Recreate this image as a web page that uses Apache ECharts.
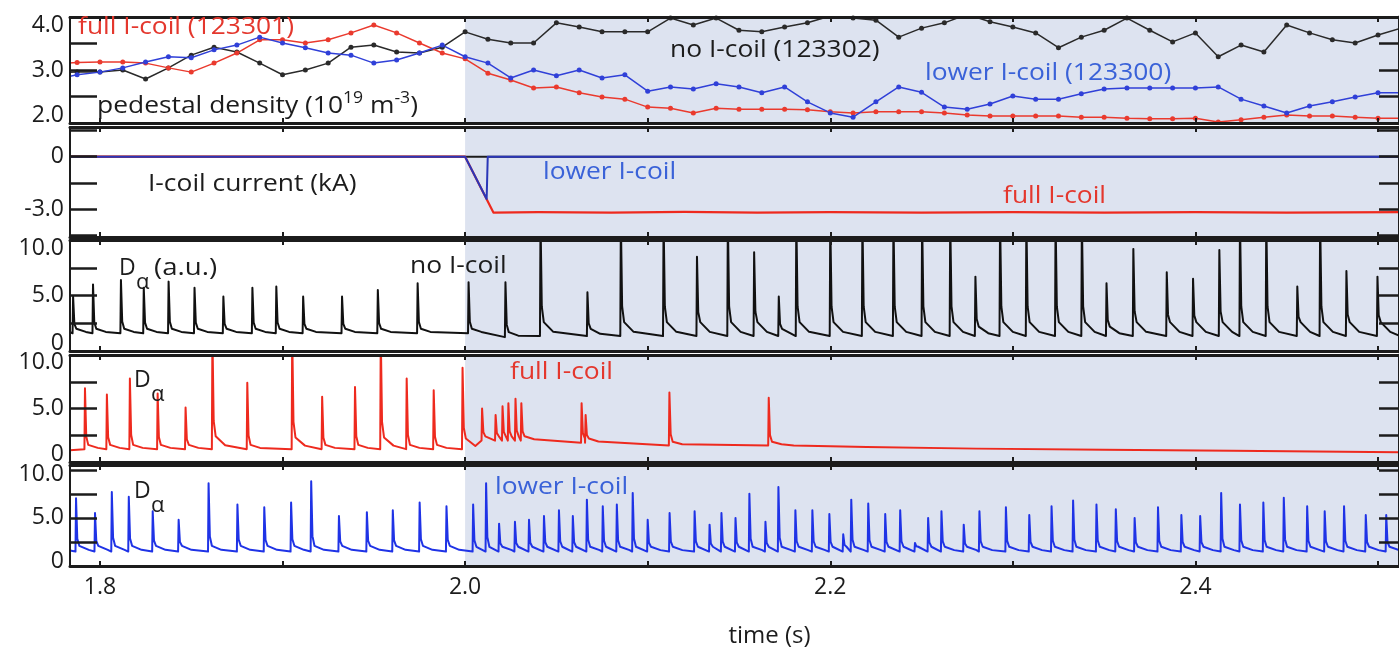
<!DOCTYPE html>
<html>
<head>
<meta charset="utf-8">
<script src="https://cdn.jsdelivr.net/npm/echarts@6/dist/echarts.min.js"></script>
<style>
  html, body { margin: 0; padding: 0; background: #ffffff; }
  #chart { width: 1399px; height: 650px; }
</style>
</head>
<body>
<div id="chart"></div>
<script>
// ---------------------------------------------------------------------------
// Shared time axis (s)
// ---------------------------------------------------------------------------
const timeRange = [1.7836, 2.5115];
const timeTicks = [1.8, 1.9, 2.0, 2.1, 2.2, 2.3, 2.4, 2.5];
const timeLabels = [1.8, 2.0, 2.2, 2.4];
const coilOnset = 2.0;

// ---------------------------------------------------------------------------
// Pedestal density (10^19 m^-3), Thomson samples every 12.5 ms
// ---------------------------------------------------------------------------
const densityTimes = [1.775, 1.7875, 1.8, 1.8125, 1.825, 1.8375, 1.85, 1.8625, 1.875, 1.8875,
  1.9, 1.9125, 1.925, 1.9375, 1.95, 1.9625, 1.975, 1.9875, 2.0, 2.0125,
  2.025, 2.0375, 2.05, 2.0625, 2.075, 2.0875, 2.1, 2.1125, 2.125, 2.1375,
  2.15, 2.1625, 2.175, 2.1875, 2.2, 2.2125, 2.225, 2.2375, 2.25, 2.2625,
  2.275, 2.2875, 2.3, 2.3125, 2.325, 2.3375, 2.35, 2.3625, 2.375, 2.3875,
  2.4, 2.4125, 2.425, 2.4375, 2.45, 2.4625, 2.475, 2.4875, 2.5, 2.5125];
const densityNoCoil = [2.95, 2.96, 2.96, 3.00, 2.83, 3.04, 3.28, 3.43, 3.34, 3.13,
  2.91, 3.00, 3.13, 3.43, 3.47, 3.34, 3.32, 3.43, 3.72, 3.58,
  3.51, 3.51, 3.89, 3.81, 3.72, 3.72, 3.72, 3.98, 3.85, 3.98,
  3.75, 3.72, 3.81, 3.89, 4.02, 3.98, 3.94, 3.62, 3.79, 3.89,
  4.05, 3.91, 3.81, 3.70, 3.42, 3.62, 3.75, 3.98, 3.75, 3.53,
  3.70, 3.25, 3.47, 3.34, 3.85, 3.70, 3.57, 3.51, 3.66, 3.79];
const densityFullCoil = [3.12, 3.14, 3.15, 3.15, 3.13, 3.04, 2.96, 3.13, 3.32, 3.57,
  3.57, 3.51, 3.57, 3.70, 3.85, 3.70, 3.51, 3.32, 3.21, 2.94,
  2.81, 2.66, 2.68, 2.57, 2.49, 2.45, 2.30, 2.28, 2.19, 2.28,
  2.26, 2.26, 2.26, 2.25, 2.21, 2.19, 2.21, 2.21, 2.21, 2.19,
  2.15, 2.13, 2.13, 2.13, 2.13, 2.11, 2.11, 2.09, 2.08, 2.08,
  2.09, 2.02, 2.06, 2.11, 2.15, 2.13, 2.13, 2.11, 2.09, 2.09];
const densityLowerCoil = [2.82, 2.91, 2.96, 3.04, 3.15, 3.25, 3.23, 3.38, 3.47, 3.62,
  3.51, 3.42, 3.32, 3.28, 3.13, 3.19, 3.32, 3.47, 3.25, 3.13,
  2.85, 3.00, 2.89, 3.00, 2.85, 2.91, 2.60, 2.68, 2.64, 2.74,
  2.68, 2.57, 2.68, 2.40, 2.19, 2.11, 2.40, 2.68, 2.58, 2.30,
  2.26, 2.36, 2.51, 2.45, 2.45, 2.55, 2.64, 2.66, 2.66, 2.66,
  2.66, 2.68, 2.45, 2.32, 2.19, 2.32, 2.40, 2.49, 2.57, 2.57];

// ---------------------------------------------------------------------------
// I-coil current (kA): [time, current]
// ---------------------------------------------------------------------------
const coilCurrentNone = [[1.7836, 0], [2.5115, 0]];
const coilCurrentFull = [[1.7836, 0], [2.0, 0], [2.0155, -3.2], [2.04, -3.17], [2.08, -3.2],
  [2.12, -3.16], [2.16, -3.2], [2.2, -3.18], [2.25, -3.2], [2.3, -3.17], [2.35, -3.2],
  [2.4, -3.17], [2.45, -3.2], [2.5115, -3.18]];
const coilCurrentLower = [[1.7836, 0], [2.0, 0], [2.0118, -2.42], [2.0124, 0], [2.5115, 0]];

// ---------------------------------------------------------------------------
// D-alpha ELM bursts: [time, peak, optional post-ELM level]
// levels: [from time, pre-ELM level, post-ELM level]
// ---------------------------------------------------------------------------
const elmNoCoil = [[1.7853, 4.9], [1.7962, 6.0], [1.8115, 6.4], [1.824, 5.7], [1.8376, 6.25],
  [1.8518, 5.7], [1.8676, 4.9], [1.8835, 5.7], [1.8966, 5.8], [1.9113, 4.9], [1.9326, 4.9],
  [1.9522, 5.5], [1.974, 6.1], [2.0019, 6.2], [2.0221, 6.2], [2.0413, 12], [2.067, 5.3, 2.0],
  [2.0853, 12], [2.1087, 12], [2.127, 8.5], [2.1439, 12], [2.1583, 8.9], [2.1718, 4.9, 2.0],
  [2.1814, 12], [2.2, 12], [2.2176, 12], [2.2346, 12], [2.2503, 12], [2.2657, 12],
  [2.2795, 6.7, 2.2], [2.293, 12], [2.3074, 12], [2.3234, 12], [2.3378, 12], [2.3513, 6.1, 2.2],
  [2.366, 9.2], [2.3843, 7.1], [2.3987, 6.5], [2.4131, 9.1], [2.4244, 12], [2.4388, 12],
  [2.4558, 5.8], [2.4683, 12], [2.4827, 7.2], [2.4997, 6.7]];
const levelsNoCoil = [[1.78, 1.6, 2.0], [2.005, 1.25, 1.7], [2.035, 1.35, 2.6]];
const edgesNoCoil = { start: [[1.7836, 1.7]], end: [[2.5115, 1.4]] };

const elmFullCoil = [[1.7918, 6.9], [1.8038, 6.3], [1.8164, 7.8], [1.8316, 6.4], [1.8469, 5.1],
  [1.8616, 12, 2.4], [1.8807, 7.4], [1.9053, 12, 2.3], [1.9217, 6.1], [1.9397, 7.0],
  [1.9538, 12, 2.3], [1.968, 7.8], [1.9828, 6.7], [1.9986, 8.8, 2.2], [2.0093, 5.0],
  [2.0167, 4.4], [2.0205, 5.2], [2.0237, 5.5], [2.0276, 5.9], [2.0308, 5.5],
  [2.0638, 5.5], [2.066, 4.4], [2.1119, 6.5], [2.1663, 6.0]];
const levelsFullCoil = [[1.78, 1.2, 1.6], [2.005, 2.0, 2.4], [2.04, 1.8, 2.2], [2.1, 1.55, 1.9]];
const edgesFullCoil = { start: [[1.7836, 1.1]],
  end: [[2.18, 1.55], [2.22, 1.4], [2.28, 1.25], [2.35, 1.15], [2.42, 1.05], [2.5115, 0.9]] };

const elmLowerCoil = [[1.7869, 7.05], [1.7973, 5.5], [1.8065, 7.7], [1.8158, 7.2], [1.8289, 5.7],
  [1.8431, 4.8], [1.8595, 8.6], [1.8753, 6.4], [1.89, 6.1], [1.9047, 6.6], [1.9157, 8.8],
  [1.9309, 5.2], [1.9462, 5.6], [1.9604, 5.8], [1.9751, 6.6], [1.9898, 6.2],
  [2.0044, 6.4], [2.0115, 8.6], [2.0186, 4.4], [2.0273, 4.6], [2.035, 4.8], [2.0432, 5.2],
  [2.0514, 5.8], [2.059, 5.2], [2.0667, 6.9], [2.0754, 6.2], [2.0831, 6.4], [2.0918, 7.6],
  [2.1, 4.8], [2.112, 5.5], [2.1257, 5.7], [2.1339, 4.3], [2.1404, 5.5], [2.1481, 5.0],
  [2.1557, 7.5], [2.1645, 4.6], [2.1716, 8.2], [2.1809, 5.8], [2.1902, 5.8], [2.1995, 5.4],
  [2.2071, 3.3], [2.2115, 6.9], [2.2208, 6.5], [2.2301, 5.4], [2.2383, 5.8], [2.2464, 2.4],
  [2.2536, 5.0], [2.2609, 5.7], [2.2731, 4.3], [2.2817, 5.7], [2.2962, 6.1], [2.309, 5.3],
  [2.3212, 6.2], [2.333, 6.8], [2.3458, 6.4], [2.3564, 5.9], [2.3667, 5.0], [2.3795, 6.1],
  [2.3923, 5.3], [2.4026, 5.2], [2.4141, 7.6], [2.4244, 6.4], [2.4372, 6.6], [2.4484, 7.1],
  [2.4612, 6.2], [2.4708, 5.7], [2.4814, 6.2], [2.4933, 5.3], [2.5045, 5.3]];
const levelsLowerCoil = [[1.78, 1.5, 2.1], [2.0, 1.5, 2.0]];
const edgesLowerCoil = { start: [[1.7836, 1.6]], end: [[2.5115, 1.6]] };

// Panel axis ticks and labels
const densityTicks = [2.0, 2.5, 3.0, 3.5, 4.0], densityLabels = [2.0, 3.0, 4.0];
const currentTicks = [-4.5, -3.0, -1.5, 0, 1.5], currentLabels = [-3.0, 0];
const dalphaTicks = [0, 2.5, 5.0, 7.5, 10.0], dalphaLabels = [0, 5.0, 10.0];

// ---------------------------------------------------------------------------
// Style
// ---------------------------------------------------------------------------
const FONT = '"Open Sans", "DejaVu Sans", sans-serif';
const INK = '#1c1c1c';
const RED = '#ee2a1e';
const BLUE = '#1f33e6';
const NAVY = '#2a36b8';
const RED_TEXT = '#e4372d';
const BLUE_TEXT = '#3a62d8';
const SHADE = '#dde3f0';

// Expand ELM list into a polyline: sharp rise, fast drop, slow recovery
function elmTrace(elms, levels, edges) {
  const pts = edges.start.slice();
  elms.forEach((e, i) => {
    const t = e[0], peak = e[1];
    let lv = levels[0];
    levels.forEach(l => { if (l[0] <= t) lv = l; });
    const base = lv[1];
    const after = e.length > 2 ? e[2] : lv[2];
    const next = i + 1 < elms.length ? elms[i + 1][0] : Infinity;
    pts.push([t - 0.0003, base], [t, peak]);
    if (t + 0.0007 < next - 0.0003) pts.push([t + 0.0007, after + 0.15 * (peak - after)]);
    if (t + 0.0018 < next - 0.0003) pts.push([t + 0.0018, after]);
    if (t + 0.007 < next - 0.0012) pts.push([t + 0.007, base + 0.3 * (after - base)]);
  });
  return pts.concat(edges.end);
}
const zip = (xs, ys) => xs.map((x, i) => [x, ys[i]]);
const fmt1 = v => (v === 0 ? '0' : v.toFixed(1));

const panels = [
  { top: 17,  height: 106, min: 2.0,  max: 4.0,  ticks: densityTicks, labels: densityLabels, shiftEnds: 16 },
  { top: 127, height: 110, min: -4.6, max: 1.7,  ticks: currentTicks, labels: currentLabels, shiftEnds: 0 },
  { top: 240, height: 111, min: 0,    max: 10,   ticks: dalphaTicks,  labels: dalphaLabels,  shiftEnds: 16 },
  { top: 355, height: 107, min: 0,    max: 10,   ticks: dalphaTicks,  labels: dalphaLabels,  shiftEnds: 15 },
  { top: 465, height: 101, min: 0,    max: 10.5, ticks: dalphaTicks,  labels: dalphaLabels,  shiftEnds: 10 }
];

const option = {
  animation: false,
  backgroundColor: '#ffffff',
  textStyle: { fontFamily: FONT },
  grid: panels.map(p => ({ left: 70, width: 1334, top: p.top, height: p.height, show: false })),
  xAxis: [],
  yAxis: [],
  series: [],
  graphic: []
};

panels.forEach((p, i) => {
  const last = i === panels.length - 1;
  ['bottom', 'top'].forEach(pos => {
    const withLabels = last && pos === 'bottom';
    option.xAxis.push({
      gridIndex: i, type: 'value', position: pos, min: timeRange[0], max: timeRange[1], z: 10,
      axisLine: { show: true, onZero: false, lineStyle: { color: INK, width: 3 } },
      axisTick: { show: true, inside: true, length: 5, customValues: timeTicks,
        lineStyle: { color: INK, width: 2 } },
      axisLabel: withLabels ? {
        show: true, customValues: timeLabels, formatter: v => v.toFixed(1),
        fontSize: 23, color: INK, margin: 10, fontFamily: FONT
      } : { show: false },
      splitLine: { show: false },
      name: withLabels ? 'time (s)' : '',
      nameLocation: 'middle', nameGap: 58,
      nameTextStyle: { fontSize: 24, color: INK, fontFamily: FONT, padding: [0, 0, 0, 70] }
    });
  });
  const lo = p.labels[0], hi = p.labels[p.labels.length - 1];
  const s = p.shiftEnds;
  ['left', 'right'].forEach(pos => {
    option.yAxis.push({
      gridIndex: i, type: 'value', position: pos, min: p.min, max: p.max, z: 10,
      axisLine: { show: true, onZero: false, lineStyle: { color: INK, width: pos === 'left' ? 2 : 3 } },
      axisTick: { show: true, inside: true, length: pos === 'left' ? 27 : 20, customValues: p.ticks,
        lineStyle: { color: INK, width: 2.5 } },
      axisLabel: pos === 'left' ? {
        show: true, customValues: p.labels, margin: 6,
        formatter: v => (s && v === lo ? '{lo|' + fmt1(v) + '}'
          : s && v === hi ? '{hi|' + fmt1(v) + '}' : '{n|' + fmt1(v) + '}'),
        rich: {
          n:  { fontSize: 23, color: INK, fontFamily: FONT },
          lo: { fontSize: 23, color: INK, fontFamily: FONT, padding: [0, 0, s, 0] },
          hi: { fontSize: 23, color: INK, fontFamily: FONT, padding: [s, 0, 0, 0] }
        }
      } : { show: false },
      splitLine: { show: false }
    });
  });
});

const shadeArea = {
  silent: true,
  itemStyle: { color: SHADE },
  data: [[{ xAxis: coilOnset }, { xAxis: timeRange[1] }]]
};

function lineSeries(panel, data, color, width, extra) {
  return Object.assign({
    type: 'line', xAxisIndex: panel * 2, yAxisIndex: panel * 2, data: data,
    showSymbol: false, symbol: 'none', clip: true, silent: true,
    lineStyle: { color: color, width: width, join: 'round' }, itemStyle: { color: color }
  }, extra || {});
}

const densitySymbols = { showSymbol: true, symbol: 'circle', symbolSize: 5 };
option.series.push(
  lineSeries(0, zip(densityTimes, densityNoCoil), '#2a2a2a', 1.5, Object.assign({ markArea: shadeArea }, densitySymbols)),
  lineSeries(0, zip(densityTimes, densityFullCoil), '#ea3a2e', 1.5, densitySymbols),
  lineSeries(0, zip(densityTimes, densityLowerCoil), '#3040d8', 1.5, densitySymbols),
  lineSeries(1, coilCurrentNone, INK, 2, { markArea: shadeArea }),
  lineSeries(1, coilCurrentFull, RED, 2.2),
  lineSeries(1, coilCurrentLower, NAVY, 2),
  lineSeries(2, elmTrace(elmNoCoil, levelsNoCoil, edgesNoCoil), '#111111', 2, { markArea: shadeArea }),
  lineSeries(3, elmTrace(elmFullCoil, levelsFullCoil, edgesFullCoil), RED, 2, { markArea: shadeArea }),
  lineSeries(4, elmTrace(elmLowerCoil, levelsLowerCoil, edgesLowerCoil), BLUE, 2, { markArea: shadeArea })
);

// Text annotations
function note(text, x, y, color, size, stretch) {
  return {
    type: 'text', x: x, y: y, z: 20, silent: true, scaleX: stretch || 1.1,
    style: { text: text, fill: color, fontSize: size || 24, fontFamily: FONT,
      align: 'left', verticalAlign: 'middle' }
  };
}
option.graphic = [
  note('full I-coil (123301)', 78, 27, RED_TEXT, 24),
  note('no I-coil (123302)', 670, 50, INK, 24),
  note('lower I-coil (123300)', 925, 73, BLUE_TEXT, 24),
  {
    type: 'text', x: 97, y: 106, z: 20, silent: true, scaleX: 1.1,
    style: {
      text: 'pedestal density (10{sup|19} m{sup|-3})',
      fill: INK, fontSize: 24, fontFamily: FONT, lineHeight: 32,
      align: 'left', verticalAlign: 'middle',
      rich: { sup: { fontSize: 16, lineHeight: 16, verticalAlign: 'top', fill: INK, fontFamily: FONT } }
    }
  },
  note('I-coil current (kA)', 148, 184, INK, 24),
  note('lower I-coil', 543, 172, BLUE_TEXT, 24),
  note('full I-coil', 1003, 196, RED_TEXT, 24),
  note('D', 119, 268, INK, 23, 1),
  note('\u03b1', 136, 283, INK, 22, 1),
  note('(a.u.)', 154, 268, INK, 24, 1.15),
  note('no I-coil', 410, 266, INK, 24),
  note('D', 134, 380, INK, 23, 1),
  note('\u03b1', 151, 395, INK, 22, 1),
  note('full I-coil', 510, 372, RED_TEXT, 24),
  note('D', 134, 491, INK, 23, 1),
  note('\u03b1', 151, 506, INK, 22, 1),
  note('lower I-coil', 495, 487, BLUE_TEXT, 24)
];

const chart = echarts.init(document.getElementById('chart'), null, { renderer: 'canvas' });
chart.setOption(option);
</script>
</body>
</html>
